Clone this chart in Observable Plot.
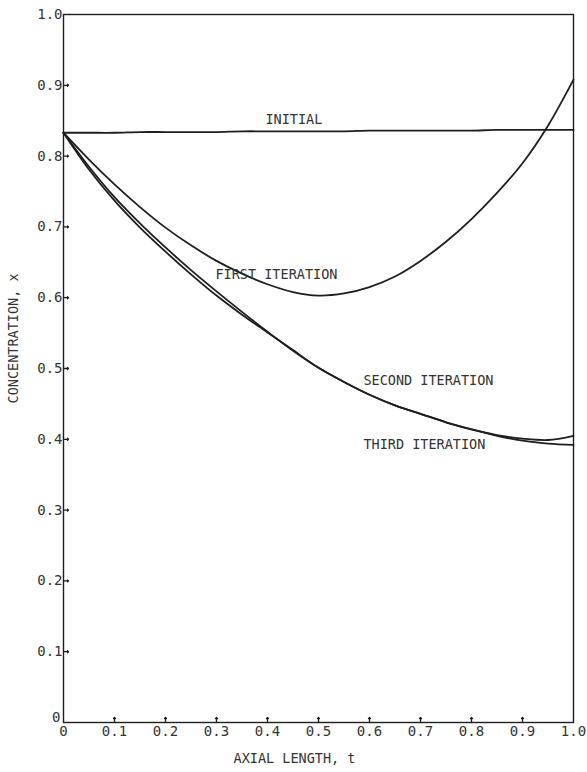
<!DOCTYPE html>
<html>
<head>
<meta charset="utf-8">
<script src="https://cdn.jsdelivr.net/npm/d3@7"></script>
<script src="https://cdn.jsdelivr.net/npm/@observablehq/plot@0.6"></script>
<style>
  html, body { margin: 0; padding: 0; background: #fff; }
  #chart { width: 587px; height: 772px; }
  svg { font-family: "DejaVu Sans Mono", "Liberation Mono", monospace; }
  #chart g[aria-label$="tick label"], #chart g[aria-label$="tick label"] text { font-size: 14px !important; }
</style>
</head>
<body>
<div id="chart"></div>
<script>
// ---- data ----
const tValues = [0, 0.05, 0.1, 0.15, 0.2, 0.25, 0.3, 0.35, 0.4, 0.45, 0.5, 0.55, 0.6, 0.65, 0.7, 0.75, 0.8, 0.85, 0.9, 0.95, 1.0];
const initial = [0.833, 0.833, 0.833, 0.834, 0.834, 0.834, 0.834, 0.835, 0.835, 0.835, 0.835, 0.835, 0.836, 0.836, 0.836, 0.836, 0.836, 0.837, 0.837, 0.837, 0.837];
const firstIter = [0.833, 0.795, 0.760, 0.728, 0.699, 0.674, 0.652, 0.634, 0.619, 0.608, 0.603, 0.606, 0.615, 0.630, 0.652, 0.679, 0.711, 0.748, 0.790, 0.843, 0.908];
const secondIter = [0.833, 0.785, 0.742, 0.705, 0.671, 0.639, 0.609, 0.580, 0.552, 0.525, 0.501, 0.481, 0.463, 0.448, 0.436, 0.424, 0.414, 0.406, 0.401, 0.399, 0.405];
const thirdIter = [0.833, 0.781, 0.737, 0.699, 0.665, 0.633, 0.603, 0.576, 0.551, 0.526, 0.501, 0.481, 0.463, 0.448, 0.436, 0.424, 0.414, 0.405, 0.398, 0.394, 0.392];

const seriesNames = ["INITIAL", "FIRST ITERATION", "SECOND ITERATION", "THIRD ITERATION"];
const seriesValues = [initial, firstIter, secondIter, thirdIter];
// label anchor positions (data units: t, x)
const labelT = [0.396, 0.298, 0.588, 0.588];
const labelX = [0.852, 0.633, 0.483, 0.393];

const xTicks = [0, 0.1, 0.2, 0.3, 0.4, 0.5, 0.6, 0.7, 0.8, 0.9, 1.0];
const xTickLabels = ["0", "0.1", "0.2", "0.3", "0.4", "0.5", "0.6", "0.7", "0.8", "0.9", "1.0"];
const yTicks = [0, 0.1, 0.2, 0.3, 0.4, 0.5, 0.6, 0.7, 0.8, 0.9, 1.0];
const yTickLabels = ["0", "0.1", "0.2", "0.3", "0.4", "0.5", "0.6", "0.7", "0.8", "0.9", "1.0"];
const xTitle = "AXIAL LENGTH, t";
const yTitle = "CONCENTRATION, x";

// ---- build table ----
const rows = [];
seriesNames.forEach((name, i) => {
  tValues.forEach((t, j) => rows.push({series: name, t, x: seriesValues[i][j]}));
});
const labels = seriesNames.map((name, i) => ({name, t: labelT[i], x: labelX[i]}));

const ink = "#1e1e1e";
const textInk = "#333";

const chart = Plot.plot({
  width: 587,
  height: 772,
  marginLeft: 63,
  marginRight: 14,
  marginTop: 14,
  marginBottom: 50,
  style: {fontFamily: "DejaVu Sans Mono, Liberation Mono, monospace", fontSize: "14px", color: ink, background: "#fff"},
  x: {domain: [0, 1], label: null},
  y: {domain: [0, 1], label: null},
  marks: [
    Plot.axisX(xTicks, {tickSize: 0, tickPadding: 4, tickFormat: (d, i) => xTickLabels[i], fontSize: 14, fill: textInk, label: null}),
    Plot.axisY(yTicks.slice(1), {tickSize: 0, tickPadding: 1, tickFormat: (d, i) => yTickLabels[i + 1], fontSize: 14, fill: textInk, label: null}),
    Plot.text([yTicks[0]], {x: 0, y: d => d, text: () => yTickLabels[0], textAnchor: "end", dx: -3, dy: -5, fontSize: 14, fill: textInk}),
    Plot.frame({stroke: ink, strokeWidth: 1.4}),
    Plot.vector(xTicks.slice(1, -1), {x: d => d, y: 0, length: 5, rotate: 0, anchor: "start", stroke: ink, strokeWidth: 1.3}),
    Plot.vector(yTicks.slice(1, -1), {x: 0, y: d => d, length: 5, rotate: 90, anchor: "start", stroke: ink, strokeWidth: 1.3}),
    Plot.line(rows, {x: "t", y: "x", z: "series", curve: "catmull-rom", stroke: ink, strokeWidth: 1.8}),
    Plot.text(labels, {x: "t", y: "x", text: "name", textAnchor: "start", fontSize: 13.5, fill: textInk}),
    Plot.text([xTitle], {frameAnchor: "bottom", dx: -24, dy: 40, fontSize: 13.5, fill: textInk}),
    Plot.text([yTitle], {frameAnchor: "left", rotate: -90, dx: -50, dy: 35, fontSize: 13.5, fill: textInk})
  ]
});
document.getElementById("chart").appendChild(chart);
</script>
</body>
</html>
